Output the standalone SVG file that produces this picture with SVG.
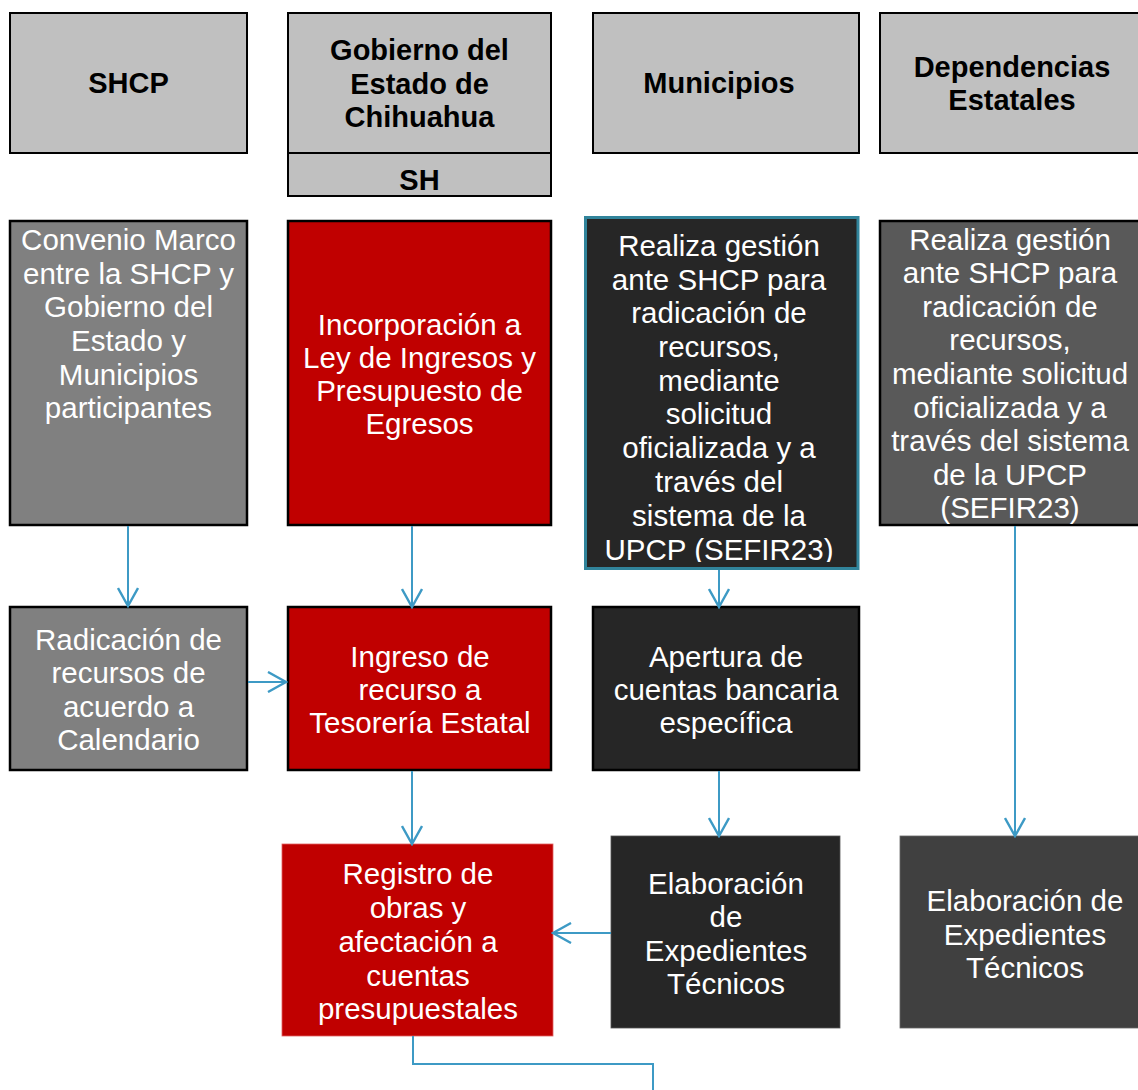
<svg xmlns="http://www.w3.org/2000/svg" width="1138" height="1090" viewBox="0 0 1138 1090">
<style>
.hdr{fill:#C0C0C0;stroke:#000;stroke-width:2}
.ht{font-family:"Liberation Sans",Arial,sans-serif;font-weight:bold;font-size:29px;fill:#000;text-anchor:middle}
.bt{font-family:"Liberation Sans",Arial,sans-serif;font-size:29.5px;fill:#fff;text-anchor:middle}
.bk{stroke:#000;stroke-width:2.5}
.conn{fill:none;stroke:#3D9AC5;stroke-width:2}
</style>
<defs>
<marker id="ah" viewBox="0 0 22 22" refX="20" refY="11" markerWidth="22" markerHeight="22" markerUnits="userSpaceOnUse" orient="auto">
<path d="M2,1 L20,11 L2,21" fill="none" stroke="#3D9AC5" stroke-width="2.4"/>
</marker>
<clipPath id="clipMun"><rect x="586" y="218" width="271" height="344"/></clipPath>
</defs>

<g id="h-shcp"><rect class="hdr" x="10" y="13" width="237" height="140"/><text class="ht" x="128.5" y="93">SHCP</text></g>
<g id="h-gob"><rect class="hdr" x="288" y="13" width="263" height="183"/><line x1="288" y1="153" x2="551" y2="153" stroke="#000" stroke-width="2"/>
<text class="ht" x="419.5" y="60">Gobierno del</text><text class="ht" x="419.5" y="94">Estado de</text><text class="ht" x="419.5" y="127">Chihuahua</text><text class="ht" x="419.5" y="190">SH</text></g>
<g id="h-mun"><rect class="hdr" x="593" y="13" width="266" height="140"/><text class="ht" x="719" y="93">Municipios</text></g>
<g id="h-dep"><rect class="hdr" x="880" y="13" width="270" height="140"/><text class="ht" x="1012" y="77">Dependencias</text><text class="ht" x="1012" y="110">Estatales</text></g>

<g id="n-convenio"><rect class="bk" x="10" y="221" width="237" height="304" fill="#808080"/>
<text class="bt"><tspan x="128.5" y="250">Convenio Marco</tspan><tspan x="128.5" y="284">entre la SHCP y</tspan><tspan x="128.5" y="317">Gobierno del</tspan><tspan x="128.5" y="351">Estado y</tspan><tspan x="128.5" y="385">Municipios</tspan><tspan x="128.5" y="418">participantes</tspan></text></g>

<g id="n-incorporacion"><rect class="bk" x="288" y="221" width="263" height="304" fill="#C00000"/>
<text class="bt"><tspan x="419.5" y="335">Incorporación a</tspan><tspan x="419.5" y="368">Ley de Ingresos y</tspan><tspan x="419.5" y="401">Presupuesto de</tspan><tspan x="419.5" y="434">Egresos</tspan></text></g>

<g id="n-realiza-mun"><rect x="585.5" y="217.5" width="272.5" height="351" fill="#262626" stroke="#31849B" stroke-width="3"/>
<text class="bt" clip-path="url(#clipMun)"><tspan x="719" y="256">Realiza gestión</tspan><tspan x="719" y="290">ante SHCP para</tspan><tspan x="719" y="323">radicación de</tspan><tspan x="719" y="357">recursos,</tspan><tspan x="719" y="391">mediante</tspan><tspan x="719" y="424">solicitud</tspan><tspan x="719" y="458">oficializada y a</tspan><tspan x="719" y="492">través del</tspan><tspan x="719" y="526">sistema de la</tspan><tspan x="719" y="560">UPCP (SEFIR23)</tspan></text></g>

<g id="n-realiza-dep"><rect class="bk" x="880" y="221" width="270" height="304" fill="#595959"/>
<text class="bt"><tspan x="1010" y="250">Realiza gestión</tspan><tspan x="1010" y="283">ante SHCP para</tspan><tspan x="1010" y="317">radicación de</tspan><tspan x="1010" y="350">recursos,</tspan><tspan x="1010" y="384">mediante solicitud</tspan><tspan x="1010" y="418">oficializada y a</tspan><tspan x="1010" y="451">través del sistema</tspan><tspan x="1010" y="485">de la UPCP</tspan><tspan x="1010" y="518">(SEFIR23)</tspan></text></g>

<g id="n-radicacion"><rect class="bk" x="10" y="607" width="237" height="163" fill="#808080"/>
<text class="bt"><tspan x="128.5" y="650">Radicación de</tspan><tspan x="128.5" y="683">recursos de</tspan><tspan x="128.5" y="717">acuerdo a</tspan><tspan x="128.5" y="750">Calendario</tspan></text></g>

<g id="n-ingreso"><rect class="bk" x="288" y="607" width="263" height="163" fill="#C00000"/>
<text class="bt"><tspan x="420" y="667">Ingreso de</tspan><tspan x="420" y="700">recurso a</tspan><tspan x="420" y="733">Tesorería Estatal</tspan></text></g>

<g id="n-apertura"><rect class="bk" x="593" y="607" width="266" height="163" fill="#262626"/>
<text class="bt"><tspan x="726" y="667">Apertura de</tspan><tspan x="726" y="700">cuentas bancaria</tspan><tspan x="726" y="733">específica</tspan></text></g>

<g id="n-registro"><rect x="282" y="844" width="271" height="192" fill="#C00000" stroke="#E06060" stroke-width="0.8"/>
<text class="bt"><tspan x="418" y="884">Registro de</tspan><tspan x="418" y="918">obras y</tspan><tspan x="418" y="952">afectación a</tspan><tspan x="418" y="986">cuentas</tspan><tspan x="418" y="1019">presupuestales</tspan></text></g>

<g id="n-elab-mun"><rect x="611" y="836" width="229" height="192" fill="#262626" stroke="#555" stroke-width="0.8"/>
<text class="bt"><tspan x="726" y="894">Elaboración</tspan><tspan x="726" y="927">de</tspan><tspan x="726" y="961">Expedientes</tspan><tspan x="726" y="994">Técnicos</tspan></text></g>

<g id="n-elab-dep"><rect x="900" y="836" width="250" height="192" fill="#404040" stroke="#666" stroke-width="0.8"/>
<text class="bt"><tspan x="1025" y="911">Elaboración de</tspan><tspan x="1025" y="945">Expedientes</tspan><tspan x="1025" y="978">Técnicos</tspan></text></g>

<g id="connectors">
<line class="conn" x1="128" y1="526" x2="128" y2="606" marker-end="url(#ah)"/>
<line class="conn" x1="412" y1="526" x2="412" y2="607" marker-end="url(#ah)"/>
<line class="conn" x1="719" y1="570" x2="719" y2="607" marker-end="url(#ah)"/>
<line class="conn" x1="1015" y1="526" x2="1015" y2="836" marker-end="url(#ah)"/>
<line class="conn" x1="248" y1="682" x2="286" y2="682" marker-end="url(#ah)"/>
<line class="conn" x1="412" y1="771" x2="412" y2="844" marker-end="url(#ah)"/>
<line class="conn" x1="719" y1="771" x2="719" y2="836" marker-end="url(#ah)"/>
<line class="conn" x1="611" y1="933" x2="553" y2="933" marker-end="url(#ah)"/>
<polyline class="conn" points="413,1036 413,1064 653,1064 653,1090" stroke-width="1.5"/>
</g>
</svg>
